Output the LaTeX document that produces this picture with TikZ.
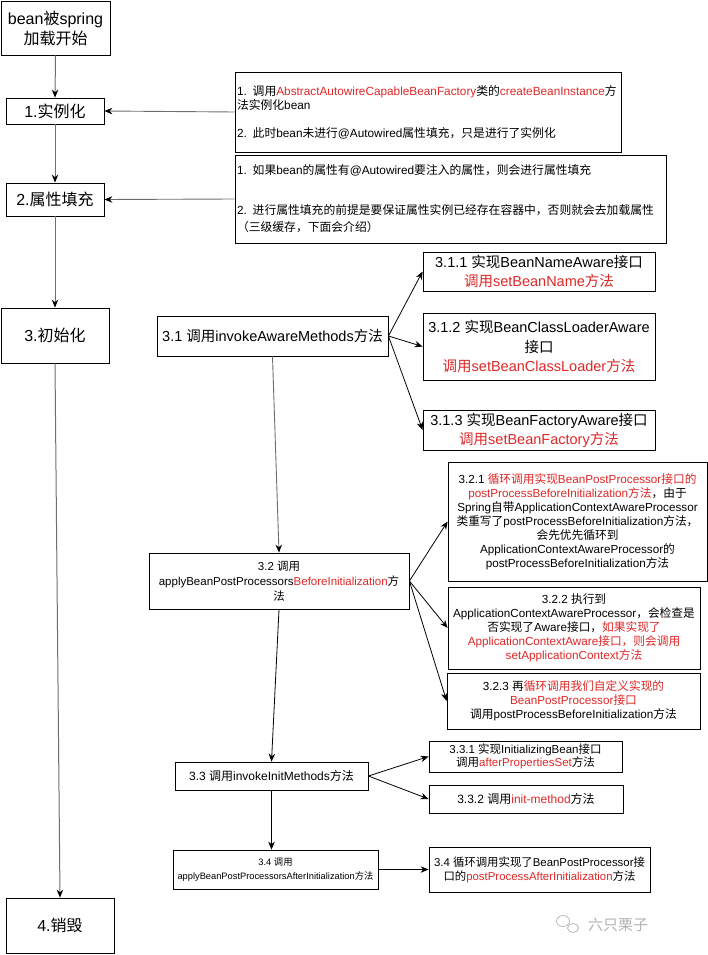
\documentclass[tikz,border=0pt]{standalone}
\usepackage{fontspec}
\setmainfont{Liberation Sans}
\newfontfamily\cjkfont{Noto Sans CJK SC}
\usetikzlibrary{arrows.meta}
\definecolor{myred}{RGB}{222,40,40}
\definecolor{lingray}{RGB}{110,110,110}
\newcommand\redtxt[1]{\textcolor{myred}{#1}}
\newcommand\fsz[2]{\fontsize{#1}{#2}\selectfont}
% automatic switch to the CJK font for CJK characters
\XeTeXinterchartokenstate=1
\newXeTeXintercharclass\mycjkclass
\newcount\mycnt
\newcommand\setcjkrange[2]{%
  \mycnt=#1
  \loop \XeTeXcharclass\mycnt=\mycjkclass
  \ifnum\mycnt<#2 \advance\mycnt by 1 \repeat}
\setcjkrange{"3000}{"303F}
\setcjkrange{"4E00}{"9FFF}
\setcjkrange{"FF00}{"FFEF}
\XeTeXinterchartoks 0 \mycjkclass = {\cjkfont}
\XeTeXinterchartoks 4095 \mycjkclass = {\cjkfont}
\XeTeXinterchartoks \mycjkclass 0 = {\normalfont}
\XeTeXinterchartoks \mycjkclass 4095 = {\normalfont}
\tikzset{
  box/.style={draw=black, line width=0.8pt, fill=white, inner sep=0pt, align=center},
  notebox/.style={draw=black, line width=0.8pt, fill=white, inner xsep=2pt, inner ysep=0pt, align=left},
  leftarr/.style={draw=lingray, line width=1pt, -{Stealth[length=8pt,width=6.5pt,color=black]}},
  grayarr/.style={draw=lingray, line width=0.9pt, -{Stealth[length=8pt,width=6.5pt,color=black]}},
  arr/.style={draw=black, line width=0.8pt, -{Stealth[length=8pt,width=6.5pt]}},
}
\begin{document}
\begin{tikzpicture}[x=1pt,y=-1pt]
\useasboundingbox (0,0) rectangle (708,955);
% left column
\node[box, minimum width=109pt, minimum height=54pt, font=\fsz{16}{20}] (start) at (55.5,28) {bean被spring\\加载开始};
\node[box, minimum width=98pt, minimum height=26pt, font=\fsz{16}{20}] (n1) at (55,111) {1.实例化};
\node[box, minimum width=98pt, minimum height=33pt, font=\fsz{16}{20}] (n2) at (55,199.5) {2.属性填充};
\node[box, minimum width=108pt, minimum height=55pt, font=\fsz{16}{20}] (n3) at (55,335.5) {3.初始化};
\node[box, minimum width=108pt, minimum height=55pt, font=\fsz{16}{20}] (n4) at (60,925.5) {4.销毁};
\draw[leftarr] (start.south) -- (n1.north);
\draw[leftarr] (n1.south) -- (n2.north);
\draw[leftarr] (n2.south) -- (n3.north);
\draw[leftarr] (n3.south) -- (n4.north);
% notes
\node[notebox, minimum width=386pt, minimum height=80pt, text width=382pt, font=\fsz{11.8}{14}] (note1) at (428,112)
 {1. 调用\redtxt{AbstractAutowireCapableBeanFactory}类的\redtxt{createBeanInstance}方\\法实例化bean\\[14pt]2. 此时bean未进行@Autowired属性填充，只是进行了实例化};
\node[notebox, minimum width=431pt, minimum height=88pt, text width=427pt, font=\fsz{11.8}{17}] (note2) at (450.5,199)
 {1. 如果bean的属性有@Autowired要注入的属性，则会进行属性填充\\[23pt]2. 进行属性填充的前提是要保证属性实例已经存在容器中，否则就会去加载属性\\（三级缓存，下面会介绍）};
\draw[grayarr] (note1.west) -- (n1.east);
\draw[grayarr] (note2.west) -- (n2.east);
% 3.1
\node[box, minimum width=231pt, minimum height=40pt, font=\fsz{14.5}{19}] (s31) at (272.5,336) {3.1 调用invokeAwareMethods方法};
\node[box, minimum width=232pt, minimum height=39pt, font=\fsz{14.5}{19}] (s311) at (539,271.5) {3.1.1 实现BeanNameAware接口\\\redtxt{调用setBeanName方法}};
\node[box, minimum width=232pt, minimum height=67pt, font=\fsz{14.5}{19.5}] (s312) at (539,346.5) {3.1.2 实现BeanClassLoaderAware\\接口\\\redtxt{调用setBeanClassLoader方法}};
\node[box, minimum width=232pt, minimum height=40pt, font=\fsz{14.5}{19}] (s313) at (539,430) {3.1.3 实现BeanFactoryAware接口\\\redtxt{调用setBeanFactory方法}};
\draw[arr] (s31.east) -- (s311.west);
\draw[arr] (s31.east) -- (s312.west);
\draw[arr] (s31.east) -- (s313.west);
% 3.2
\node[box, minimum width=260pt, minimum height=56pt, font=\fsz{11.5}{15}] (s32) at (279,581) {3.2 调用\\applyBeanPostProcessors\redtxt{BeforeInitialization}方\\法};
\node[box, minimum width=259pt, minimum height=119pt, font=\fsz{11.7}{14}] (s321) at (577.5,521.5)
 {3.2.1 \redtxt{循环调用实现BeanPostProcessor接口的}\\\redtxt{postProcessBeforeInitialization方法}，由于\\Spring自带ApplicationContextAwareProcessor\\类重写了postProcessBeforeInitialization方法，\\会先优先循环到\\ApplicationContextAwareProcessor的\\postProcessBeforeInitialization方法};
\node[box, minimum width=252pt, minimum height=82pt, font=\fsz{11.7}{14}] (s322) at (574,628)
 {3.2.2 执行到\\ApplicationContextAwareProcessor，会检查是\\否实现了Aware接口，\redtxt{如果实现了}\\\redtxt{ApplicationContextAware接口，则会调用}\\\redtxt{setApplicationContext方法}};
\node[box, minimum width=253pt, minimum height=56pt, font=\fsz{11.7}{14}] (s323) at (573.5,701)
 {3.2.3 再\redtxt{循环调用我们自定义实现的}\\\redtxt{BeanPostProcessor接口}\\调用postProcessBeforeInitialization方法};
\draw[grayarr] (s31.south) -- (s32.north);
\draw[arr] (s32.east) -- (s321.west);
\draw[arr] (s32.east) -- (s322.west);
\draw[arr] (s32.east) -- (s323.west);
% 3.3
\node[box, minimum width=193pt, minimum height=28pt, font=\fsz{12}{15}] (s33) at (271.5,776) {3.3 调用invokeInitMethods方法};
\node[box, minimum width=193pt, minimum height=31pt, font=\fsz{11.5}{13.5}] (s331) at (525.5,756.5) {3.3.1 实现InitializingBean接口\\调用\redtxt{afterPropertiesSet}方法};
\node[box, minimum width=194pt, minimum height=28pt, font=\fsz{12}{15}] (s332) at (526,799) {3.3.2 调用\redtxt{init-method}方法};
\draw[arr] (s32.south) -- (s33.north);
\draw[arr] (s33.east) -- (s331.west);
\draw[arr] (s33.east) -- (s332.west);
% 3.4
\node[box, minimum width=205pt, minimum height=39pt, font=\fsz{9.3}{14}] (s34) at (275.5,869.5) {3.4 调用\\applyBeanPostProcessorsAfterInitialization方法};
\node[box, minimum width=221pt, minimum height=45pt, font=\fsz{11.4}{14}] (s34r) at (539.5,869.5) {3.4 循环调用实现了BeanPostProcessor接\\口的\redtxt{postProcessAfterInitialization}方法};
\draw[arr] (s33.south) -- (s33.south |- s34.north);
\draw[arr] (s34.east) -- (s34r.west);
% watermark
\draw[gray!60, line width=0.7pt] (563,921) ellipse [x radius=6.5pt, y radius=5.5pt];
\draw[gray!60, line width=0.7pt, fill=white] (573,928) ellipse [x radius=5.5pt, y radius=4.5pt];
\node[text=gray!60, font=\fsz{15}{18}, inner sep=0pt] (wm) at (618,925) {六只栗子};
\end{tikzpicture}
\end{document}
